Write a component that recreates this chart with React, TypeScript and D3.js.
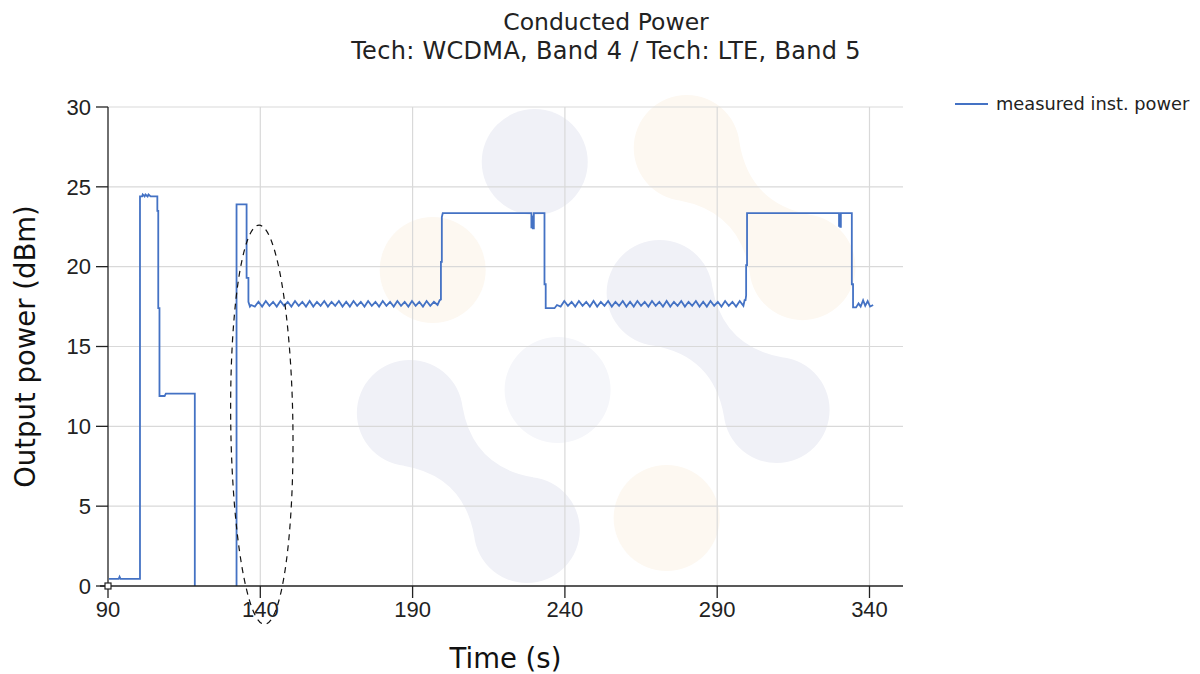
import React from "react";
import * as d3 from "d3";

type Pt = [number, number];

// ---- data: time (s), measured instantaneous power (dBm); values below 0 are off-scale
const startup: Pt[] = [
  [90.3, 0.45], [93.5, 0.45], [93.8, 0.58], [94.1, 0.45], [100.5, 0.45],
  [100.5, 24.4], [101.2, 24.4], [101.4, 24.52], [102.0, 24.4], [102.3, 24.52], [103.0, 24.4],
  [103.3, 24.52], [104.0, 24.4], [106.2, 24.4], [106.2, 23.5], [106.5, 23.5], [106.5, 17.4],
  [106.9, 17.4], [106.9, 11.9], [108.6, 11.9], [109.0, 12.05], [118.5, 12.05], [118.5, -20],
];
const wcdmaPulse: Pt[] = [
  [132.2, -20], [132.2, 23.9], [135.5, 23.9], [135.5, 19.3], [136.1, 19.3], [136.1, 17.8], [136.6, 17.5],
];
const rippleA: Pt[] = [
  [137.0, 17.6], [138.2, 17.5], [139.4, 17.8], [140.6, 17.5], [141.8, 17.85], [143.0, 17.55],
  [144.2, 17.8], [145.4, 17.5], [146.6, 17.85], [147.8, 17.55], [149.0, 17.8], [150.2, 17.5],
  [151.4, 17.85], [152.6, 17.55], [153.8, 17.8], [155.0, 17.5], [156.2, 17.85], [157.4, 17.5],
  [158.6, 17.8], [159.8, 17.55], [161.0, 17.85], [162.2, 17.5], [163.4, 17.8], [164.6, 17.55],
  [165.8, 17.85], [167.0, 17.5], [168.2, 17.8], [169.4, 17.5], [170.6, 17.85], [171.8, 17.55],
  [173.0, 17.8], [174.2, 17.5], [175.4, 17.85], [176.6, 17.55], [177.8, 17.8], [179.0, 17.5],
  [180.2, 17.85], [181.4, 17.55], [182.6, 17.8], [183.8, 17.5], [185.0, 17.85], [186.2, 17.55],
  [187.4, 17.8], [188.6, 17.5], [189.8, 17.85], [191.0, 17.55], [192.2, 17.8], [193.4, 17.5],
  [194.6, 17.85], [195.8, 17.55], [197.0, 17.8], [198.2, 17.6], [198.9, 17.9],
];
const lteBurst1: Pt[] = [
  [199.3, 17.95], [199.3, 20.3], [199.6, 20.3], [199.6, 23.1], [199.9, 23.35], [229.0, 23.35],
  [229.0, 22.4], [229.4, 23.2], [229.5, 22.4], [229.8, 22.4], [229.8, 23.35], [233.3, 23.35],
  [233.3, 18.9], [233.7, 18.9], [233.7, 17.4], [236.6, 17.4],
];
const rippleB: Pt[] = [
  [237.4, 17.6], [238.6, 17.5], [239.8, 17.85], [241.0, 17.55], [242.2, 17.8], [243.4, 17.5],
  [244.6, 17.85], [245.8, 17.55], [247.0, 17.8], [248.2, 17.5], [249.4, 17.85], [250.6, 17.5],
  [251.8, 17.8], [253.0, 17.55], [254.2, 17.85], [255.4, 17.5], [256.6, 17.8], [257.8, 17.55],
  [259.0, 17.85], [260.2, 17.5], [261.4, 17.8], [262.6, 17.5], [263.8, 17.85], [265.0, 17.55],
  [266.2, 17.8], [267.4, 17.5], [268.6, 17.85], [269.8, 17.55], [271.0, 17.8], [272.2, 17.5],
  [273.4, 17.85], [274.6, 17.5], [275.8, 17.8], [277.0, 17.55], [278.2, 17.85], [279.4, 17.5],
  [280.6, 17.8], [281.8, 17.55], [283.0, 17.85], [284.2, 17.5], [285.4, 17.8], [286.6, 17.5],
  [287.8, 17.85], [289.0, 17.55], [290.2, 17.8], [291.4, 17.5], [292.6, 17.85], [293.8, 17.55],
  [295.0, 17.8], [296.2, 17.5], [297.4, 17.85], [298.6, 17.55], [299.0, 17.9],
];
const lteBurst2: Pt[] = [
  [299.3, 17.9], [299.5, 18.2], [299.5, 20.1], [299.8, 20.1], [299.8, 23.35], [330.0, 23.35],
  [330.0, 22.5], [330.3, 23.2], [330.4, 22.5], [330.6, 22.5], [330.6, 23.35], [334.2, 23.35],
  [334.2, 18.9], [334.6, 18.9], [334.6, 17.45], [335.6, 17.45],
];
const tail: Pt[] = [
  [336.4, 17.7], [337.1, 17.5], [337.9, 17.9], [338.6, 17.55], [339.4, 17.85], [340.2, 17.5], [341.2, 17.6],
];

const xTicks = [90, 140, 190, 240, 290, 340];
const yTicks = [0, 5, 10, 15, 20, 25, 30];
const xDomain: Pt = [90, 351];
const yDomain: Pt = [0, 30];

const titleLines = ["Conducted Power", "Tech: WCDMA, Band 4 / Tech: LTE, Band 5"];
const seriesName = "measured inst. power";
const xLabel = "Time (s)";
const yLabel = "Output power (dBm)";

// dashed annotation ellipse (data units): centre t, centre v, half-width s, half-height dBm
const annotation = { t: 140.5, v: 10.1, rt: 10.2, rv: 12.5, tilt: -0.8 };

// faint watermark logo (data units), each blob = one or two circles
const watermarkBlue: Pt[][] = [
  [[230.1, 26.55]],
  [[271.1, 18.35], [309.5, 11.02]],
  [[189.1, 10.83], [227.5, 3.51]],
];
const watermarkBlueLight: Pt[][] = [[[237.6, 12.27]]];
const watermarkOrange: Pt[][] = [
  [[280.0, 27.43], [318.0, 19.97]],
  [[196.6, 19.79]],
  [[273.4, 4.26]],
];

const W = 1200;
const H = 674;
const M = { left: 108, top: 107, right: 903, bottom: 586 };
const FONT_UI = "'DejaVu Sans', Verdana, sans-serif";
const FONT_TICK = "'Liberation Sans', Arial, sans-serif";
const BLUE = "#4472c4";

function blobPath(centers: [number, number][], r: number): string {
  const circle = (c: [number, number]) =>
    `M${c[0] - r},${c[1]}a${r},${r} 0 1,0 ${2 * r},0a${r},${r} 0 1,0 ${-2 * r},0Z`;
  let d = centers.map(circle).join("");
  if (centers.length === 2) {
    const [A, B] = centers;
    const dx = B[0] - A[0];
    const dy = B[1] - A[1];
    const len = Math.hypot(dx, dy);
    const u = [dx / len, dy / len];
    const n = [-u[1], u[0]];
    const th = (52 * Math.PI) / 180;
    const c = Math.cos(th), s = Math.sin(th);
    const p = (P: [number, number], a: number, b: number) => [P[0] + r * (a * u[0] + b * n[0]), P[1] + r * (a * u[1] + b * n[1])];
    const mid = [(A[0] + B[0]) / 2, (A[1] + B[1]) / 2];
    const w = 0.12 * r;
    const a1 = p(A, c, s), b1 = p(B, -c, s), b2 = p(B, -c, -s), a2 = p(A, c, -s);
    const q1 = [mid[0] + n[0] * w, mid[1] + n[1] * w];
    const q2 = [mid[0] - n[0] * w, mid[1] - n[1] * w];
    d += `M${a1}Q${q1} ${b1}L${b2}Q${q2} ${a2}Z`;
  }
  return d;
}

export default function App() {
  const x = d3.scaleLinear().domain(xDomain).range([M.left, M.right]);
  const y = d3.scaleLinear().domain(yDomain).range([M.bottom, M.top]);
  const series: Pt[] = [...startup, ...wcdmaPulse, ...rippleA, ...lteBurst1, ...rippleB, ...lteBurst2, ...tail];
  const line = d3
    .line<Pt>()
    .x((d) => x(d[0]))
    .y((d) => y(d[1]))
    .curve(d3.curveLinear);

  const rPx = x(90 + 17.4) - x(90);
  const toPx = (b: Pt[]) => b.map((c) => [x(c[0]), y(c[1])] as [number, number]);

  const ex = x(annotation.t);
  const ey = y(annotation.v);
  const erx = x(annotation.t + annotation.rt) - ex;
  const ery = ey - y(annotation.v + annotation.rv);

  return (
    <svg width={W} height={H} style={{ position: "absolute", left: 0, top: 0, background: "#fff" }}>
      <defs>
        <clipPath id="plotClip">
          <rect x={M.left} y={M.top - 2} width={M.right - M.left} height={M.bottom - M.top + 2} />
        </clipPath>
      </defs>
      <rect x={0} y={0} width={W} height={H} fill="#fff" />
      {/* watermark */}
      <g>
        {watermarkBlue.map((b, i) => (
          <path key={"wb" + i} d={blobPath(toPx(b), rPx)} fill="#f0f1f7" />
        ))}
        {watermarkBlueLight.map((b, i) => (
          <path key={"wl" + i} d={blobPath(toPx(b), rPx)} fill="#f5f6fa" />
        ))}
        {watermarkOrange.map((b, i) => (
          <path key={"wo" + i} d={blobPath(toPx(b), rPx)} fill="#fdf8f1" />
        ))}
      </g>
      {/* grid */}
      <g stroke="#d9d9d9" strokeWidth={1.2}>
        {yTicks.filter((t) => t > 0).map((t) => (
          <line key={"gy" + t} x1={M.left} x2={M.right} y1={y(t)} y2={y(t)} />
        ))}
        {xTicks.filter((t) => t > xDomain[0]).map((t) => (
          <line key={"gx" + t} x1={x(t)} x2={x(t)} y1={M.top} y2={M.bottom} />
        ))}
      </g>
      {/* series */}
      <path d={line(series) || ""} fill="none" stroke={BLUE} strokeWidth={1.8} strokeLinejoin="miter" clipPath="url(#plotClip)" />
      {/* axes */}
      <g stroke="#222" strokeWidth={1.3}>
        <line x1={M.left} x2={M.left} y1={M.top} y2={M.bottom} />
        <line x1={M.left - 8} x2={M.right} y1={M.bottom} y2={M.bottom} />
        {yTicks.map((t) => (
          <line key={"ty" + t} x1={M.left - 12} x2={M.left} y1={y(t)} y2={y(t)} />
        ))}
        {xTicks.map((t) => (
          <line key={"tx" + t} x1={x(t)} x2={x(t)} y1={M.bottom} y2={M.bottom + 12} />
        ))}
      </g>
      <g fontFamily={FONT_TICK} fontSize={22} fill="#222">
        {yTicks.map((t) => (
          <text key={"ly" + t} x={M.left - 17} y={y(t)} dy="0.35em" textAnchor="end">
            {t}
          </text>
        ))}
        {xTicks.map((t) => (
          <text key={"lx" + t} x={x(t)} y={M.bottom + 31} textAnchor="middle">
            {t}
          </text>
        ))}
      </g>
      {/* annotation ellipse */}
      <ellipse
        cx={ex}
        cy={ey}
        rx={erx}
        ry={ery}
        fill="none"
        stroke="#111"
        strokeWidth={1.2}
        strokeDasharray="6 5"
        transform={`rotate(${annotation.tilt} ${ex} ${ey})`}
      />
      {/* origin marker */}
      <rect x={M.left - 3} y={M.bottom - 3} width={6} height={6} fill="#fff" stroke="#222" strokeWidth={1.2} />
      {/* titles */}
      <g fontFamily={FONT_UI} fill="#222" textAnchor="middle">
        <text x={606} y={30} fontSize={23.5}>{titleLines[0]}</text>
        <text x={606} y={59} fontSize={24} letterSpacing={0.3}>{titleLines[1]}</text>
      </g>
      <text x={(M.left + M.right) / 2} y={668} fontFamily={FONT_UI} fontSize={27.5} textAnchor="middle" fill="#111">
        {xLabel}
      </text>
      <text
        transform={`translate(35,${(M.top + M.bottom) / 2}) rotate(-90)`}
        fontFamily={FONT_UI}
        fontSize={27.5}
        textAnchor="middle"
        fill="#111"
      >
        {yLabel}
      </text>
      {/* legend */}
      <line x1={955} x2={988} y1={104} y2={104} stroke={BLUE} strokeWidth={2} />
      <text x={996} y={110} fontFamily={FONT_UI} fontSize={17.8} fill="#222">
        {seriesName}
      </text>
    </svg>
  );
}
